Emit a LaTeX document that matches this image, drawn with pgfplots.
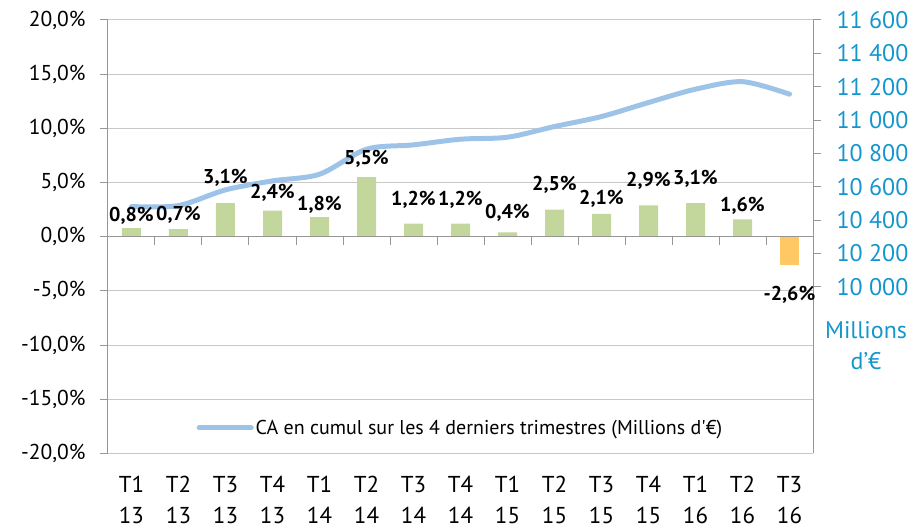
\documentclass[border=0pt]{standalone}
\usepackage{pgfplots}
\pgfplotsset{compat=1.18}
\usepackage{fontspec}
\setmainfont{PT Sans}
\definecolor{bargreen}{RGB}{195,214,155}
\definecolor{barorange}{RGB}{255,200,100}
\definecolor{linblue}{RGB}{157,196,232}
\definecolor{axblue}{RGB}{20,150,205}
\definecolor{gridgray}{RGB}{200,200,200}
\definecolor{axgray}{RGB}{150,150,150}

\pgfplotstableread{
x v
0 0.8
1 0.7
2 3.1
3 2.4
4 1.8
5 5.5
6 1.2
7 1.2
8 0.4
9 2.5
10 2.1
11 2.9
12 3.1
13 1.6
}\pos
\pgfplotstableread{
x v
14 -2.6
}\negv
\pgfplotstableread{
x ly lbl
0 1.94 0,8\%
1 2.00 0,7\%
2 5.42 3,1\%
3 4.03 2,4\%
4 2.92 1,8\%
5 7.23 5,5\%
6 3.39 1,2\%
7 3.39 1,2\%
8 2.23 0,4\%
9 4.77 2,5\%
10 3.48 2,1\%
11 5.16 2,9\%
12 5.32 3,1\%
13 2.83 1,6\%
14 -5.38 -2,6\%
}\labels
\pgfplotstableread{
x ca
0 10481
1 10487
2 10581
3 10635
4 10675
5 10825
6 10851
7 10885
8 10897
9 10961
10 11021
11 11105
12 11185
13 11230
14 11155
}\ca

\begin{document}
\begin{tikzpicture}
\pgfplotsset{
  base/.style={scale only axis, width=705pt, height=433.5pt,
    at={(108pt,76.5pt)}, anchor=south west, xmin=-0.5, xmax=14.5,
    tick align=outside, major tick length=8pt,
    every tick/.style={axgray, line width=1pt}},
}
% left axis with bars
\begin{axis}[base,
  ymin=-20, ymax=20,
  axis y line*=left, axis x line*=bottom,
  x axis line style={gridgray, line width=1pt, -},
  y axis line style={axgray, line width=1pt, -},
  ytick={-20,-15,...,20},
  yticklabels={{-20,0\%},{-15,0\%},{-10,0\%},{-5,0\%},{0,0\%},{5,0\%},{10,0\%},{15,0\%},{20,0\%}},
  yticklabel style={font=\fontsize{21.5}{21.5}\selectfont, xshift=-11pt},
  ymajorgrids, grid style={gridgray, line width=1pt},
  xtick={0,...,14},
  xticklabels={{T1\\13},{T2\\13},{T3\\13},{T4\\13},{T1\\14},{T2\\14},{T3\\14},{T4\\14},{T1\\15},{T2\\15},{T3\\15},{T4\\15},{T1\\16},{T2\\16},{T3\\16}},
  xticklabel style={align=center, font=\fontsize{23}{31}\selectfont, yshift=-11pt},
  xtick style={draw=none},
]
\addplot[ybar, bar width=19pt, bar shift=0pt, fill=bargreen, draw=none] table[x=x, y=v] {\pos};
\addplot[ybar, bar width=19pt, bar shift=0pt, fill=barorange, draw=none] table[x=x, y=v] {\negv};
\draw[axgray, line width=1.2pt] (axis cs:-0.5,0) -- (axis cs:14.5,0);
\pgfplotsinvokeforeach{0.5,1.5,...,13.5}{
  \draw[axgray, line width=1pt] (axis cs:#1,0) -- ++(0pt,-8pt);
}
\end{axis}
% right axis with line
\begin{axis}[base,
  ymin=9000, ymax=11600,
  axis y line*=right, axis x line=none,
  scaled y ticks=false,
  y axis line style={axgray, line width=1pt, -},
  ytick={10000,10200,...,11600},
  yticklabels={10 000,10 200,10 400,10 600,10 800,11 000,11 200,11 400,11 600},
  yticklabel style={axblue, font=\fontsize{24}{24}\selectfont, xshift=12pt},
  legend style={at={(0.5,0.059)}, anchor=center, draw=none, fill=white,
    font=\fontsize{20}{20}\selectfont, inner xsep=4pt, inner ysep=3pt},
  legend cell align=left,
  legend image code/.code={\draw[#1, line width=5pt] (0pt,0pt) -- (52pt,0pt);},
]
\addplot[linblue, line width=5pt, smooth, tension=0.5, line cap=round] table[x=x, y=ca] {\ca};
\addlegendentry{CA en cumul sur les 4 derniers trimestres (Millions d\textquotesingle€)}
\end{axis}
% labels on top
\begin{axis}[base, ymin=-20, ymax=20, hide axis]
\addplot[draw=none, mark=none, nodes near coords, point meta=explicit symbolic,
  nodes near coords style={font=\bfseries\fontsize{20}{20}\selectfont, anchor=center, inner sep=0pt}]
  table[x=x, y=ly, meta=lbl] {\labels};
\end{axis}
\node[axblue, align=center, font=\fontsize{24}{31}\selectfont] at (866pt,184pt) {Millions\\d’€};
\pgfresetboundingbox
\path[use as bounding box] (0pt,0pt) rectangle (914pt,530pt);
\end{tikzpicture}
\end{document}
